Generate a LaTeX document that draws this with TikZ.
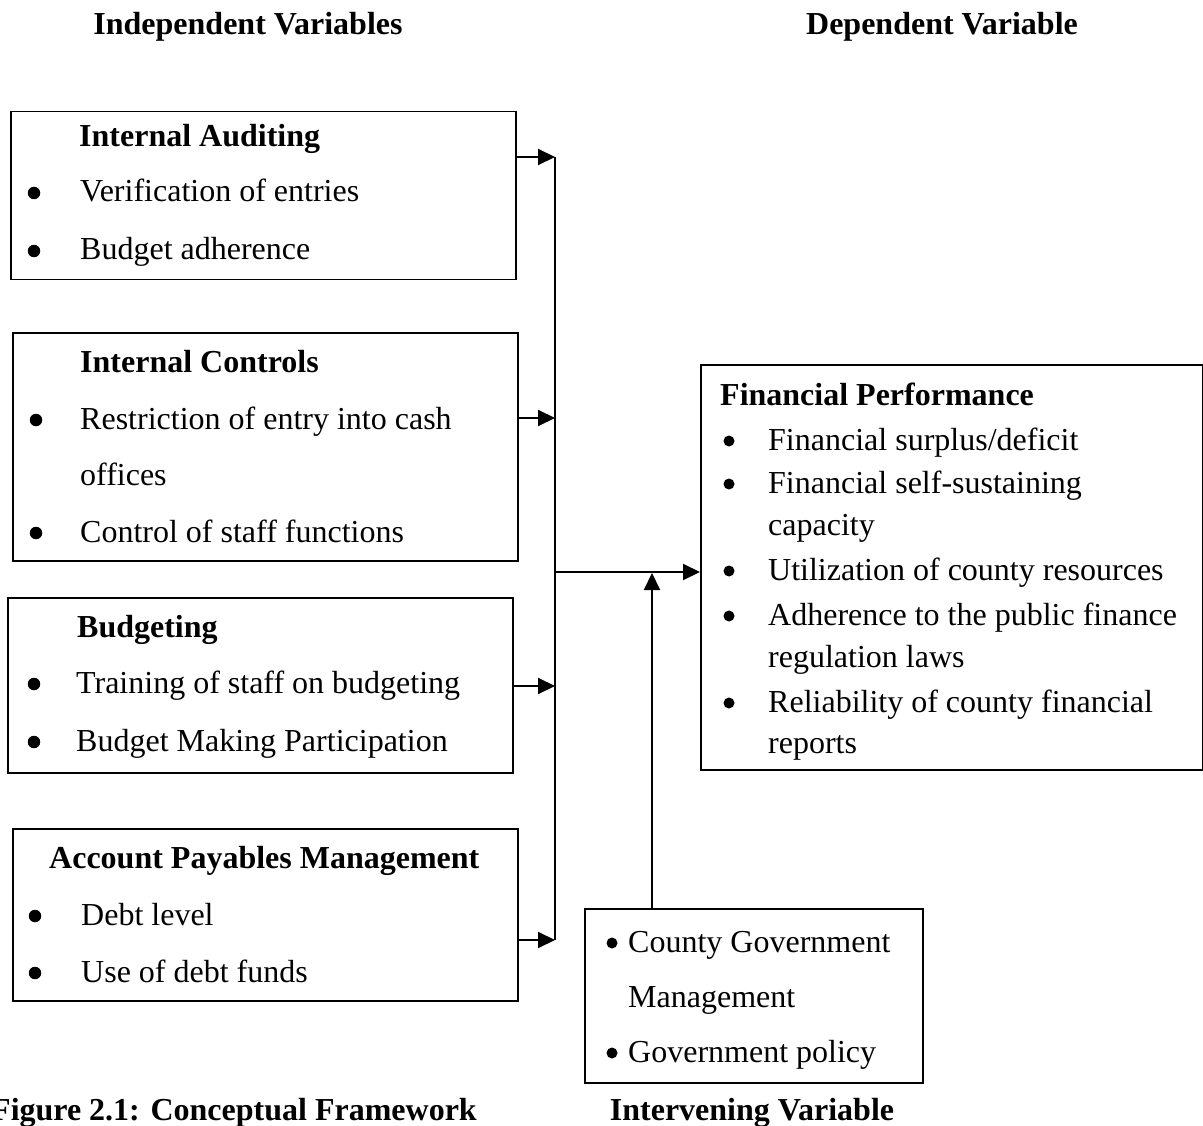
\documentclass[tikz,border=0pt]{standalone}
\usepackage{fontspec}
\setmainfont{Liberation Serif}
\usetikzlibrary{arrows.meta}
\begin{document}
\begin{tikzpicture}[x=1pt,y=-1pt,
  txt/.style={inner sep=0pt,anchor=base west,font=\fontsize{32}{38}\selectfont},
  hd/.style={inner sep=0pt,anchor=base,font=\fontsize{32}{38}\selectfont\bfseries},
  ttl/.style={txt,font=\fontsize{32}{38}\selectfont\bfseries},
  dot/.style={circle,fill,inner sep=0pt,minimum size=12.5pt},
  sdot/.style={circle,fill,inner sep=0pt,minimum size=11pt},
  box/.style={draw,line width=1.5pt,inner sep=0pt,anchor=north west},
  arr/.style={line width=2pt,-{Triangle[length=17pt,width=16pt]}},
  ln/.style={line width=2pt}]
\useasboundingbox (0,0) rectangle (1203,1126);

% headers
\node[hd] (h1) at (248,35) {Independent Variables};
\node[hd] (h2) at (942,35) {Dependent Variable};

% box 1
\node[box,minimum width=505pt,minimum height=168pt] (b1) at (10,111) {};
\node[ttl] (t1) at (79,147) {Internal Auditing};
\node[dot] (b1a) at (34,193) {};
\node[txt] (l1a) at (80,202) {Verification of entries};
\node[dot] (b1b) at (34,251) {};
\node[txt] (l1b) at (80,260) {Budget adherence};

% box 2
\node[box,minimum width=505pt,minimum height=228pt] (b2) at (12,332) {};
\node[ttl] (t2) at (80,372) {Internal Controls};
\node[dot] (b2a) at (36,420) {};
\node[txt] (l2a) at (80,429) {Restriction of entry into cash};
\node[txt] (l2b) at (80,485) {offices};
\node[dot] (b2c) at (36,533) {};
\node[txt] (l2c) at (80,542) {Control of staff functions};

% box 3
\node[box,minimum width=505pt,minimum height=175pt] (b3) at (7,597) {};
\node[ttl] (t3) at (77,637) {Budgeting};
\node[dot] (b3a) at (34,684) {};
\node[txt] (l3a) at (76,693) {Training of staff on budgeting};
\node[dot] (b3b) at (34,742) {};
\node[txt] (l3b) at (76,751) {Budget Making Participation};

% box 4
\node[box,minimum width=505pt,minimum height=172pt] (b4) at (12,828) {};
\node[ttl] (t4) at (49,868) {Account Payables Management};
\node[dot] (b4a) at (35,916) {};
\node[txt] (l4a) at (81,925) {Debt level};
\node[dot] (b4b) at (35,973) {};
\node[txt] (l4b) at (81,982) {Use of debt funds};

% dependent box
\node[box,minimum width=502pt,minimum height=405pt] (fp) at (700,364) {};
\node[ttl] (tf) at (720,405) {Financial Performance};
\node[sdot] (f1) at (729,441) {};
\node[txt] (g1) at (768,450) {Financial surplus/deficit};
\node[sdot] (f2) at (729,484) {};
\node[txt] (g2) at (768,493) {Financial self-sustaining};
\node[txt] (g2b) at (768,535) {capacity};
\node[sdot] (f3) at (729,571) {};
\node[txt] (g3) at (768,580) {Utilization of county resources};
\node[sdot] (f4) at (729,616) {};
\node[txt] (g4) at (768,625) {Adherence to the public finance};
\node[txt] (g4b) at (768,667) {regulation laws};
\node[sdot] (f5) at (729,703) {};
\node[txt] (g5) at (768,712) {Reliability of county financial};
\node[txt] (g5b) at (768,753) {reports};

% intervening box
\node[box,minimum width=338pt,minimum height=174pt] (iv) at (584,908) {};
\node[sdot] (d1) at (612,943) {};
\node[txt] (i1) at (628,952) {County Government};
\node[txt] (i2) at (628,1007) {Management};
\node[sdot] (d3) at (612,1053) {};
\node[txt] (i3) at (628,1062) {Government policy};

% bottom labels
\node[ttl] (cap) at (-9,1120) {Figure 2.1: Conceptual Framework};
\node[hd] (h3) at (752,1120) {Intervening Variable};

% bus
\coordinate (p1) at (555,157);
\coordinate (p2) at (555,418);
\coordinate (p3) at (555,686);
\coordinate (p4) at (555,940);
\coordinate (pm) at (555,572);
\coordinate (pu) at (652,573);
\draw[ln] (p1) -- (p4);
\draw[arr] (b1.east |- p1) -- (p1);
\draw[arr] (b2.east |- p2) -- (p2);
\draw[arr] (b3.east |- p3) -- (p3);
\draw[arr] (b4.east |- p4) -- (p4);
\draw[arr] (pm) -- (fp.west |- pm);
\draw[arr] (iv.north -| pu) -- (pu);
\end{tikzpicture}
\end{document}
